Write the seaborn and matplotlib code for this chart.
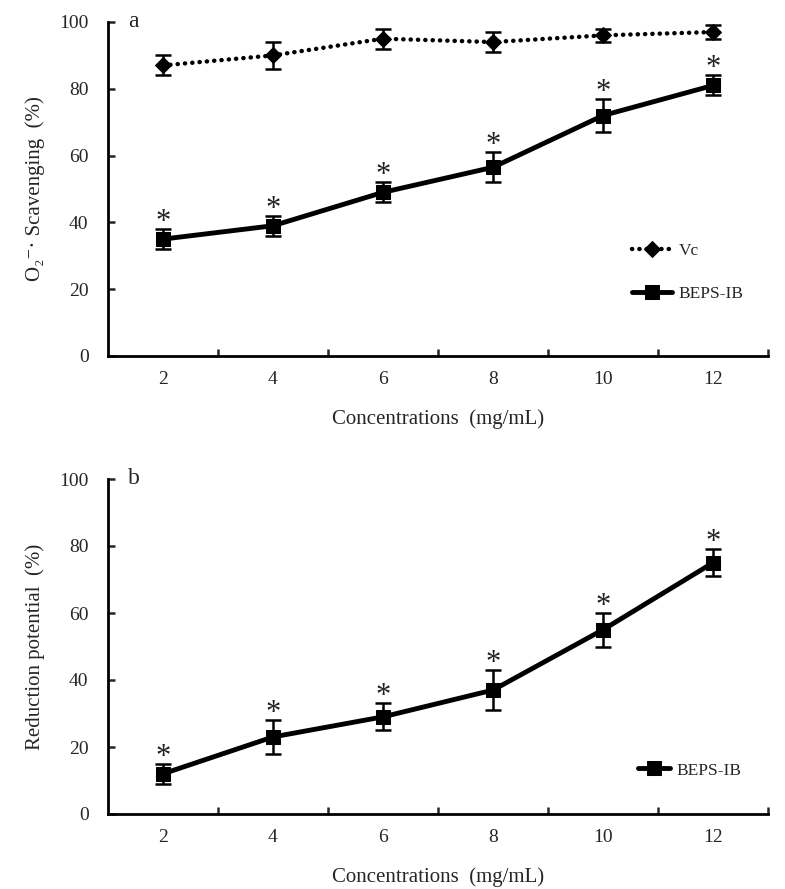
import matplotlib
matplotlib.use("Agg")
import matplotlib.pyplot as plt
import seaborn as sns
import pandas as pd

# data
conc = ["2", "4", "6", "8", "10", "12"]
vc_a = [87, 90, 95, 94, 96, 97]
vc_a_err = [3, 4, 3, 3, 2, 2]
beps_a = [35, 39, 49, 56.5, 72, 81]
beps_a_err = [3, 3, 3, 4.5, 5, 3]
beps_b = [12, 23, 29, 37, 55, 75]
beps_b_err = [3, 5, 4, 6, 5, 4]

sns.set_style("white")
plt.rcParams["font.family"] = ["Liberation Serif", "DejaVu Serif"]

fig = plt.figure(figsize=(7.85, 8.89), dpi=100)
ax1 = fig.add_axes([108 / 785, 1 - 356 / 889, 660 / 785, 334 / 889])
ax2 = fig.add_axes([108 / 785, 1 - 814 / 889, 660 / 785, 335 / 889])

df_a = pd.DataFrame({"conc": conc * 2,
                     "val": vc_a + beps_a,
                     "series": ["Vc"] * 6 + ["BEPS-IB"] * 6})
df_b = pd.DataFrame({"conc": conc, "val": beps_b, "series": ["BEPS-IB"] * 6})


def draw(ax, df, series_err, style):
    for name, err in series_err:
        sub = df[df["series"] == name]
        ls, lw, mk, ms = style[name]
        sns.lineplot(data=sub, x="conc", y="val", ax=ax, color="black",
                     linestyle=ls, linewidth=lw, marker=mk, markersize=ms,
                     markeredgecolor="black", label=name, sort=False,
                     dash_capstyle="round")
        ax.errorbar(list(range(len(conc))), sub["val"].values, yerr=err,
                    fmt="none", ecolor="black", elinewidth=1.8, capsize=6,
                    capthick=1.8, zorder=3)
        if name == "BEPS-IB":
            for i, (v, e) in enumerate(zip(sub["val"].values, err)):
                ax.text(i, v + e + 2.0, "*", ha="center", va="center",
                        fontsize=22, color="#222222")


style = {"Vc": ((0, (0.05, 1.6)), 3.2, "D", 8), "BEPS-IB": ("-", 3.5, "s", 10)}

draw(ax1, df_a, [("Vc", vc_a_err), ("BEPS-IB", beps_a_err)], style)
draw(ax2, df_b, [("BEPS-IB", beps_b_err)], style)

for ax, lab in [(ax1, "a"), (ax2, "b")]:
    ax.set_xlim(-0.5, 5.5)
    ax.set_ylim(0, 100)
    ax.set_yticks(range(0, 101, 20))
    ax.set_xticks(range(6))
    ax.set_xticklabels(conc)
    ax.set_xticks([i - 0.5 for i in range(1, 7)], minor=True)
    ax.tick_params(axis="x", which="major", length=0, pad=11, labelsize=14)
    ax.tick_params(axis="x", which="minor", direction="in", length=5, width=1.8,
                   bottom=True)
    ax.tick_params(axis="y", direction="in", length=5, width=1.8, left=True,
                   pad=14, labelsize=14)
    for s in ["top", "right"]:
        ax.spines[s].set_visible(False)
    for s in ["left", "bottom"]:
        ax.spines[s].set_linewidth(2)
        ax.spines[s].set_color("black")
    ax.set_xlabel("Concentrations  (mg/mL)", fontsize=15, labelpad=15)
    ax.text(0.03, 1.0, lab, transform=ax.transAxes, fontsize=17, va="center")

ax1.set_ylabel("O\u2082\u207b\u00b7 Scavenging  (%)", fontsize=15, labelpad=10)
ax2.set_ylabel("Reduction potential  (%)", fontsize=15, labelpad=10)

ax1.legend(loc="center left", bbox_to_anchor=(0.77, 0.25), frameon=False,
           fontsize=12.5, handlelength=2.3, handletextpad=0.4, labelspacing=1.5)
ax2.legend(loc="center left", bbox_to_anchor=(0.78, 0.13), frameon=False,
           fontsize=12.5, handlelength=1.8, handletextpad=0.4)

fig.savefig("out.png", dpi=100)
